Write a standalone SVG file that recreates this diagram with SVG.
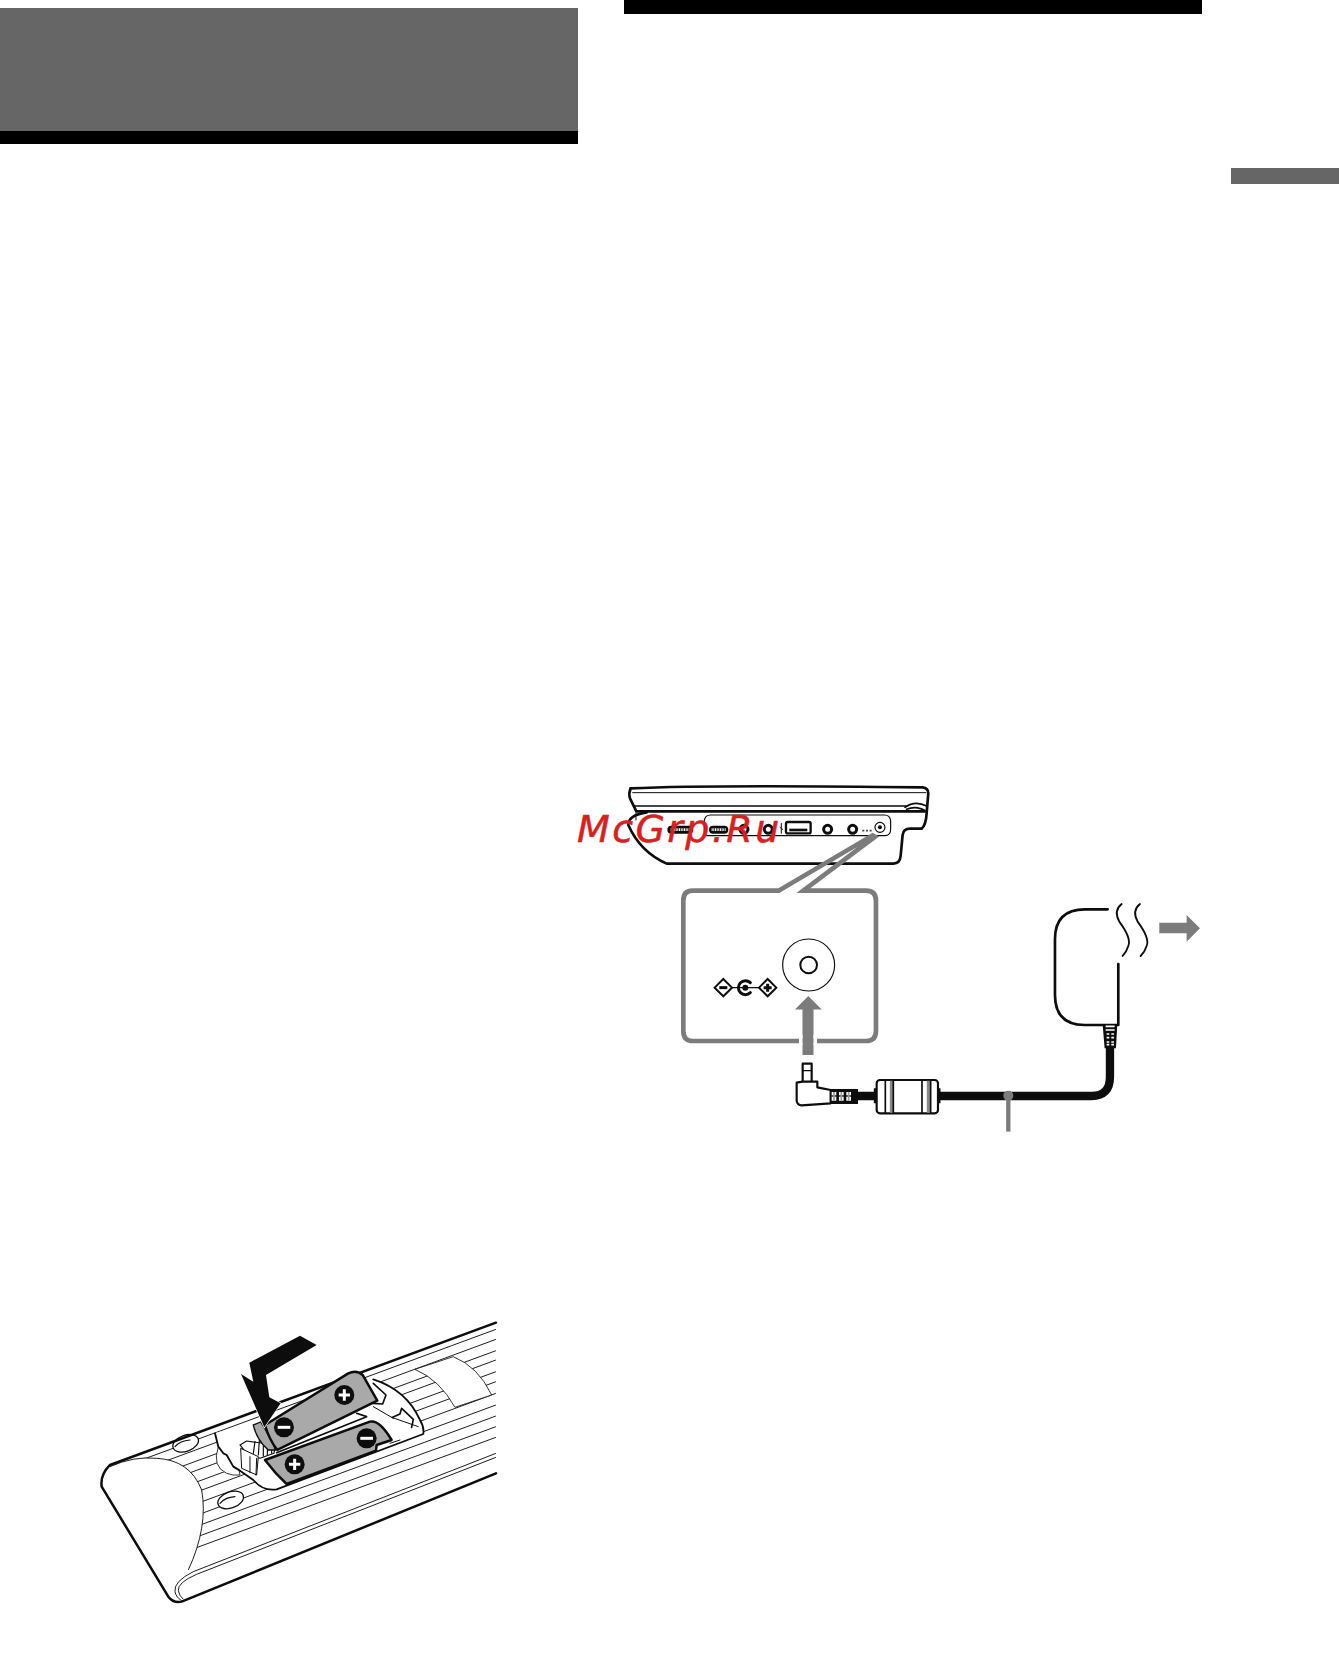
<svg xmlns="http://www.w3.org/2000/svg" width="1339" height="1654" viewBox="0 0 1339 1654">
<style>
.k{fill:none;stroke:#0d0d0d;stroke-linecap:round;stroke-linejoin:round}
.w{fill:#fff;stroke:#0d0d0d;stroke-linejoin:round}
.g{fill:#7c7c7c}
.rib{fill:none;stroke:#0d0d0d;stroke-width:2.8}
.wm{font-family:"DejaVu Sans",sans-serif;font-style:italic;font-size:38px;letter-spacing:2.4px;fill:#d8201f;stroke:#d8201f;stroke-width:.5px}
</style>
<defs>
<clipPath id="rc"><path d="M1218,38L60,465Q30,495 35,530L235,860Q250,880 275,875L1218,490Z"/></clipPath>
</defs>
<g id="headers">
<rect x="0" y="8" width="578" height="123" fill="#666"/>
<rect x="0" y="131" width="578" height="13" fill="#000"/>
<rect x="624" y="0" width="578" height="14" fill="#000"/>
<rect x="1231" y="168" width="108" height="16" fill="#666"/>
</g>
<g id="remote" transform="translate(90,1310) scale(.3333)">
<path d="M1218,38L60,465Q30,495 35,530L235,860Q250,880 275,875L1218,490Z" fill="#fff"/>
<g clip-path="url(#rc)">
<path class="rib" d="M1218,58L100,470M1218,88L100,500M1218,122L100,534M1218,150L100,562M1218,185L100,597M1218,215L100,627M1218,250L100,662M1218,285L100,697M1218,318L100,730M1218,350L100,762M1218,382L100,794"/>
<path d="M60,470Q130,438 200,445Q300,450 335,540Q355,650 295,780L240,870L30,530Z" fill="#fff"/>
<path class="rib" d="M60,470Q130,438 200,445Q300,450 335,540Q355,650 295,780"/>
<path d="M1218,430L310,785Q250,815 255,845L275,880L1218,495Z" fill="#fff"/>
<path class="rib" d="M1218,430L310,785Q250,815 255,845Q258,862 275,872M1218,442L320,793Q262,818 265,842Q268,858 280,868"/>
</g>
<path class="w" stroke-width="2.5" d="M975,178L1090,140Q1165,170 1205,255L1095,292Q1050,210 975,178Z"/>
<g id="keyhole-1"><ellipse class="w" stroke-width="4" cx="287" cy="400" rx="40" ry="24" transform="rotate(-20 287 400)"/><path class="k" stroke-width="3.5" d="M255,410Q270,392 300,390"/></g>
<g id="keyhole-2"><ellipse class="w" stroke-width="4" cx="422" cy="570" rx="40" ry="24" transform="rotate(-20 422 570)"/><path class="k" stroke-width="3.5" d="M390,580Q405,562 435,560"/></g>
<path class="k" stroke-width="7.5" d="M1218,38L60,465Q30,495 35,530L235,860Q250,880 275,875L1218,490"/>
<g id="compartment">
<path class="w" stroke-width="2.5" d="M385,410Q365,470 410,490Q430,498 450,495L440,450Z"/>
<path d="M375,370L490,335L850,208Q960,240 1000,350L1000,372L560,540Q520,545 490,510L450,480L430,470L410,435L385,410Z" fill="#fff"/>
<path class="k" stroke-width="5.5" d="M375,370L385,410L400,430L410,435L430,470L450,482L490,510Q520,545 560,538L1000,372Q1003,350 990,330Q950,240 850,208"/>
<path class="k" stroke-width="3" d="M900,400L930,390M905,322L985,350M850,290L910,325"/>
<path class="k" stroke-width="5" d="M850,220L888,255L878,282L850,280"/>
<path class="k" stroke-width="5" d="M908,322L930,312L935,295L970,328L965,352"/>
<path class="k" stroke-width="5" d="M800,310L830,320L560,428"/>
<path class="w" stroke-width="3.5" d="M450,405L470,393L555,405L552,430L510,445L470,430Z"/>
<path class="k" stroke-width="3.5" d="M495,395L490,430M508,392L505,435M520,392L520,438M533,394L532,436M545,398L545,430"/>
<path class="w" stroke-width="3" d="M452,415L455,475L500,495L505,440Z"/>
<path class="k" stroke-width="3" d="M480,440L480,488M500,445L498,495"/>
<path fill="#a9a9a9" stroke="#0d0d0d" stroke-width="4" d="M490,345L512,336L548,395L556,420L535,420Q500,390 490,345Z"/>
</g>
<g id="battery-1">
<path fill="#a9a9a9" stroke="#0d0d0d" stroke-width="7.5" stroke-linejoin="round" d="M525,345L775,190Q800,178 818,195L862,272L562,420Q538,390 525,345Z"/>
<circle cx="763" cy="255" r="30" fill="#0d0d0d"/>
<path d="M763,238V272M746,255H780" stroke="#fff" stroke-width="9"/>
<circle cx="582" cy="352" r="30" fill="#0d0d0d"/>
<path d="M563,352H601" stroke="#fff" stroke-width="9"/>
</g>
<g id="battery-2">
<path fill="#a9a9a9" stroke="#0d0d0d" stroke-width="7.5" stroke-linejoin="round" d="M525,450L840,335Q868,328 905,390L860,405L858,422L590,522Q555,490 525,450Z"/>
<circle cx="830" cy="385" r="30" fill="#0d0d0d"/>
<path d="M811,385H849" stroke="#fff" stroke-width="9"/>
<circle cx="614" cy="463" r="30" fill="#0d0d0d"/>
<path d="M614,446V480M597,463H631" stroke="#fff" stroke-width="9"/>
</g>
<path id="insert-arrow" fill="#0d0d0d" stroke="#fff" stroke-width="4" paint-order="stroke" d="M478,158L630,77L680,105L528,195L538,262L572,280L523,352L453,192L490,215Z"/>
</g>
<g id="player" transform="translate(560,770) scale(.3333)">
<path class="k" stroke-width="8" d="M212,55Q450,44 1088,52Q1105,54 1105,70L1100,130Q1098,165 1085,176L1050,176Q1030,176 1028,195L1022,258Q1020,281 1000,281L320,281Q240,245 205,165Q205,135 260,127"/>
<path class="k" stroke-width="8" d="M212,55Q205,70 210,85L228,122"/>
<path class="k" stroke-width="3" d="M218,68H1098"/>
<path class="k" stroke-width="5" d="M222,108H1040"/>
<path class="k" stroke-width="8" d="M230,124H1095"/>
<path class="k" stroke-width="3" d="M228,124V150"/>
<path class="k" stroke-width="5" d="M1035,112Q1065,90 1100,108M1040,118Q1070,105 1100,125"/>
<path class="k" stroke-width="3.5" d="M433,195V152Q435,135 452,135H973Q990,135 992,152V178Q992,197 975,197H433"/>
<g id="port-a"><rect x="322" y="167" width="78" height="24" rx="12" fill="#0d0d0d"/><path d="M332,179H390" stroke="#fff" stroke-width="8" stroke-dasharray="3 2"/></g>
<g id="port-b"><rect x="447" y="167" width="58" height="24" rx="12" fill="#0d0d0d"/><path d="M455,179H497" stroke="#fff" stroke-width="8" stroke-dasharray="3 2"/></g>
<circle class="k" stroke-width="9" cx="552" cy="178" r="12"/>
<circle class="k" stroke-width="9" cx="625" cy="178" r="12"/>
<path class="k" stroke-width="3" d="M664,160V190M660,172L668,178"/>
<rect class="k" stroke-width="7" x="678" y="156" width="74" height="34" rx="5"/>
<rect x="688" y="176" width="54" height="8" fill="#0d0d0d"/>
<circle class="k" stroke-width="9" cx="803" cy="178" r="12"/>
<circle class="k" stroke-width="9" cx="878" cy="178" r="12"/>
<path stroke="#444" stroke-width="5" stroke-dasharray="6 5" d="M907,182H940" fill="none"/>
<circle class="k" stroke-width="3.5" cx="960" cy="172" r="15"/>
<circle cx="960" cy="172" r="6" fill="#0d0d0d"/>
</g>
<g id="jack-callout" transform="translate(560,770) scale(.3333)">
<path fill="none" stroke="#7c7c7c" stroke-width="14" stroke-linejoin="miter" d="M730,362H918Q948,362 948,392V783Q948,813 918,813H398Q370,813 370,783V392Q370,362 398,362H656L938,196L945,200Z"/>
<circle class="k" stroke-width="3.5" cx="746" cy="585" r="78"/>
<circle class="k" stroke-width="6" cx="746" cy="585" r="25"/>
<g id="polarity">
<path class="k" stroke-width="4" d="M515,653H600"/>
<path d="M490,627L516,653L490,679L464,653Z" fill="#fff" stroke="#0d0d0d" stroke-width="6"/>
<path d="M478,653H502" stroke="#0d0d0d" stroke-width="9"/>
<path d="M623,627L649,653L623,679L597,653Z" fill="#fff" stroke="#0d0d0d" stroke-width="6"/>
<path d="M611,653H635M623,641V665" stroke="#0d0d0d" stroke-width="9"/>
<path class="k" stroke-width="9" d="M571,638A21,21 0 1 0 571,668"/>
<circle cx="556" cy="653" r="9" fill="#0d0d0d"/>
</g>
</g>
<g id="connectors">
<path id="jack-arrow" class="g" d="M808.3,996L821.7,1009.5H813.5V1055H802.5V1009.5H795Z"/>
<rect x="799" y="1035" width="3.5" height="10" fill="#fff"/>
<rect x="813.5" y="1035" width="3.5" height="10" fill="#fff"/>
<g transform="translate(760,890) scale(.3333)">
<path id="cord" fill="none" stroke="#0d0d0d" stroke-width="25" d="M293,618H350M535,618H995Q1050,618 1050,560V470"/>
<path id="leader" fill="none" stroke="#7c7c7c" stroke-width="13" d="M745,617V725"/>
<circle cx="745" cy="617" r="15" fill="#7c7c7c"/>
</g>
</g>
<g id="plug" transform="translate(760,890) scale(.3333)">
<rect class="w" stroke-width="6.5" x="128" y="521" width="27" height="55"/>
<path class="k" stroke-width="4" d="M128,542H155"/>
<path class="w" stroke-width="6.5" d="M128,575L110,578V632Q112,646 125,646L212,640V600L172,592V575H155Z"/>
<rect x="210" y="597" width="84" height="45" fill="#0d0d0d"/>
<path d="M222,606V632M244,606V632M266,606V632" stroke="#fff" stroke-width="14"/>
<path d="M214,618H290" stroke="#0d0d0d" stroke-width="4"/>
<path d="M222,606V632M244,606V632M266,606V632" stroke="#999" stroke-width="5"/>
</g>
<g id="ferrite" transform="translate(760,890) scale(.3333)">
<rect class="w" stroke-width="6.5" x="350" y="570" width="184" height="100" rx="10"/>
<path d="M395,572V668M506,572V668" stroke="#8a8a8a" stroke-width="11"/>
<path class="k" stroke-width="5" d="M376,572V668M400,572V668M486,572V668M512,572V668"/>
<path d="M345,595V640M538,595V640" stroke="#0d0d0d" stroke-width="7"/>
</g>
<g id="adapter" transform="translate(760,890) scale(.3333)">
<path class="k" stroke-width="8" d="M1043,58H975Q885,58 885,148V315Q885,405 975,405H1075V222"/>
<path class="k" stroke-width="5.5" d="M1085,42Q1060,62 1078,95Q1115,145 1105,168Q1100,185 1088,198M1140,42Q1115,62 1133,95Q1170,145 1160,168Q1155,185 1142,198"/>
<path d="M1028,403H1072L1068,475H1034Z" fill="#0d0d0d"/>
<path d="M1037,409H1064M1037,420H1064M1040,432H1062M1040,443H1062M1040,456H1062M1040,464H1062" stroke="#fff" stroke-width="5"/>
<path d="M1051,428V470" stroke="#0d0d0d" stroke-width="6"/>
<path id="plug-arrow" class="g" d="M1198,98H1280V75L1320,115L1280,155V130H1198Z"/>
</g>
<text id="watermark" class="wm" x="577" y="842">McGrp.Ru</text>
</svg>
